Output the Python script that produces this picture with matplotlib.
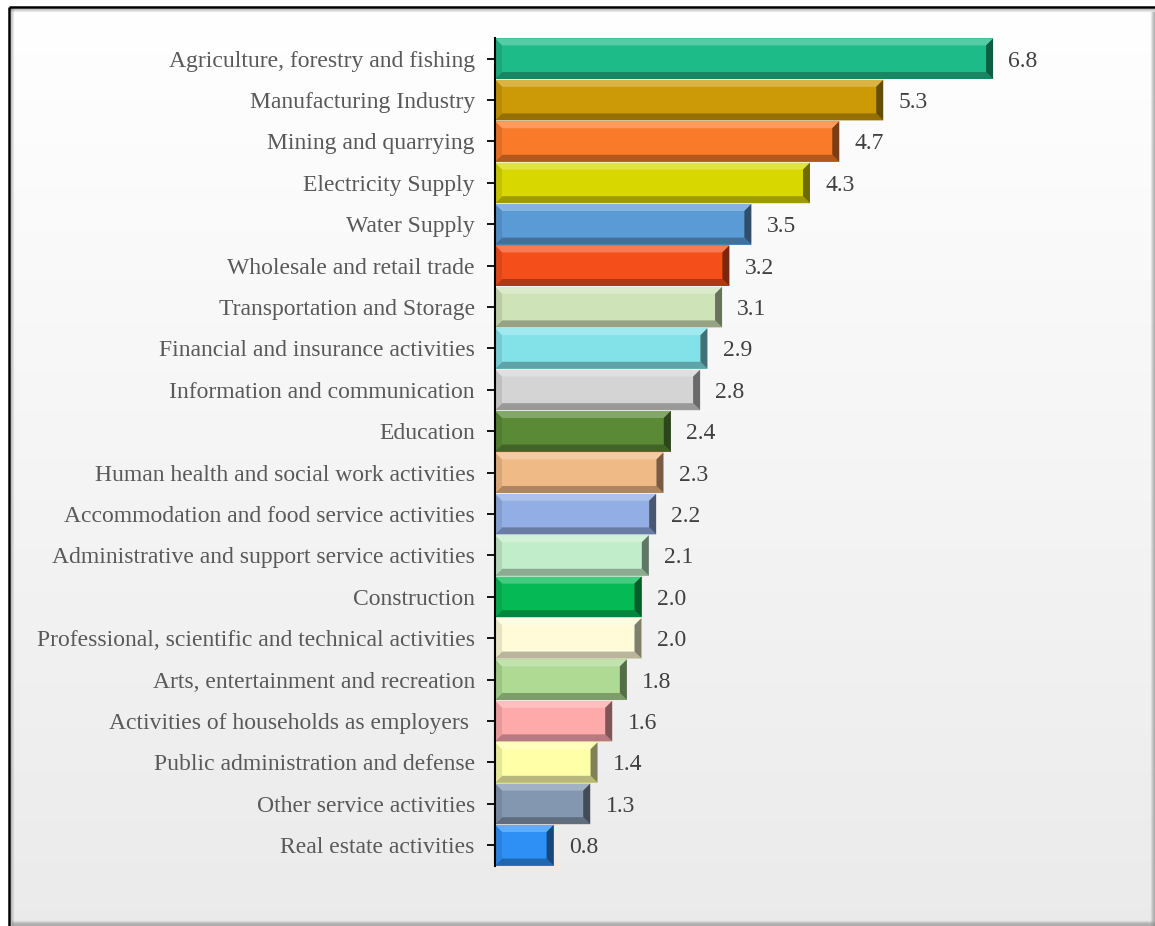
import numpy as np
import matplotlib
matplotlib.use("Agg")
import matplotlib.pyplot as plt
from matplotlib.patches import Polygon
from matplotlib.colors import to_rgb

categories = [
    "Agriculture, forestry and fishing",
    "Manufacturing Industry",
    "Mining and quarrying",
    "Electricity Supply",
    "Water Supply",
    "Wholesale and retail trade",
    "Transportation and Storage",
    "Financial and insurance activities",
    "Information and communication",
    "Education",
    "Human health and social work activities",
    "Accommodation and food service activities",
    "Administrative and support service activities",
    "Construction",
    "Professional, scientific and technical activities",
    "Arts, entertainment and recreation",
    "Activities of households as employers ",
    "Public administration and defense",
    "Other service activities",
    "Real estate activities",
]
values = [6.8, 5.3, 4.7, 4.3, 3.5, 3.2, 3.1, 2.9, 2.8, 2.4, 2.3, 2.2, 2.1, 2.0, 2.0, 1.8, 1.6, 1.4, 1.3, 0.8]
value_labels = ["6.8", "5.3", "4.7", "4.3", "3.5", "3.2", "3.1", "2.9", "2.8", "2.4",
                "2.3", "2.2", "2.1", "2.0", "2.0", "1.8", "1.6", "1.4", "1.3", "0.8"]
colors = ["#1DBB88", "#CC9A06", "#F97A28", "#D8D800", "#5B9BD5", "#F44E1B", "#CFE3B8",
          "#82E2E8", "#D4D4D4", "#5A8A36", "#F0BA86", "#92AEE4", "#C2EDCA", "#05BA55",
          "#FFFBD8", "#AEDA94", "#FFAAAA", "#FFFFA8", "#8497B0", "#2E8FF5"]

W, H = 1155, 926
fig = plt.figure(figsize=(W / 100, H / 100), dpi=100)
fig.patch.set_facecolor("white")

# background gradient panel with border
bg = fig.add_axes([0, 0, 1, 1], zorder=-10)
bg.set_xlim(0, W)
bg.set_ylim(H, 0)
bg.axis("off")
grad = np.linspace(1.0, 0.92, 256).reshape(-1, 1)
bg.imshow(np.dstack([grad, grad, grad]), extent=[9, W, H, 7], aspect="auto", zorder=0)
# inner shadows along left/top
for k, a in enumerate([0.35, 0.2, 0.1]):
    bg.plot([10.5 + k, 10.5 + k], [8, H], color=(0.4, 0.4, 0.4), alpha=a, lw=1, zorder=1)
    bg.plot([10, W], [8.5 + k, 8.5 + k], color=(0.4, 0.4, 0.4), alpha=a, lw=1, zorder=1)
# outer shadows at right/bottom edges
for k, a in enumerate([0.15, 0.3, 0.45, 0.55, 0.6]):
    bg.plot([1150.5 + k, 1150.5 + k], [12, H], color=(0.55, 0.55, 0.55), alpha=a, lw=1, zorder=1)
    bg.plot([12, W], [920.5 + k, 920.5 + k], color=(0.55, 0.55, 0.55), alpha=a, lw=1, zorder=1)
bg.plot([9, W], [7, 7], color="black", lw=1.8, zorder=2, solid_capstyle="butt")
bg.plot([9, 9], [7, H], color="black", lw=1.8, zorder=2, solid_capstyle="butt")

left_px, right_px, top_px, bot_px = 495, 1081, 38, 866
ax = fig.add_axes([left_px / W, 1 - bot_px / H, (right_px - left_px) / W, (bot_px - top_px) / H])
ax.patch.set_alpha(0)

n = len(values)
y = np.arange(n)
h = 0.98
ax.barh(y, values, height=h, color=colors, edgecolor="none", zorder=2)
ax.set_xlim(0, 8.0)
ax.set_ylim(n - 0.5, -0.5)

# bevel effect (derived from the bar data)
px_x = (right_px - left_px) / 8.0
px_y = (bot_px - top_px) / n
bx = 7 / px_x
by = 7 / px_y


def shade(c, f):
    r = np.array(to_rgb(c))
    if f >= 0:
        return tuple(r + (1 - r) * f)
    return tuple(r * (1 + f))


for i, (v, c) in enumerate(zip(values, colors)):
    yt = i - h / 2
    yb = i + h / 2
    top = Polygon([(0, yt), (v, yt), (v - bx, yt + by), (bx, yt + by)], closed=True,
                  facecolor=shade(c, 0.25), edgecolor="none", zorder=3)
    bot = Polygon([(0, yb), (v, yb), (v - bx, yb - by), (bx, yb - by)], closed=True,
                  facecolor=shade(c, -0.28), edgecolor="none", zorder=3)
    rgt = Polygon([(v, yt), (v, yb), (v - bx, yb - by), (v - bx, yt + by)], closed=True,
                  facecolor=shade(c, -0.5), edgecolor="none", zorder=3)
    lft = Polygon([(0, yt), (0, yb), (bx, yb - by), (bx, yt + by)], closed=True,
                  facecolor=shade(c, -0.1), edgecolor="none", zorder=3)
    for p in (top, bot, rgt, lft):
        ax.add_patch(p)
    ax.annotate(value_labels[i], xy=(v, i), xytext=(11, 0), textcoords="offset points",
                ha="left", va="center_baseline", fontsize=17, family="Liberation Serif",
                color="#404040", zorder=5)

ax.set_yticks(y)
ax.set_yticklabels(categories, fontsize=17, family="Liberation Serif", color="#595959",
                   va="center_baseline")
ax.tick_params(axis="y", direction="inout", length=11, width=1.3, pad=9, color="black")
ax.set_xticks([])
for s in ["top", "right", "bottom"]:
    ax.spines[s].set_visible(False)
ax.spines["left"].set_linewidth(1.5)
ax.spines["left"].set_zorder(6)

fig.savefig("out.png", dpi=100)
